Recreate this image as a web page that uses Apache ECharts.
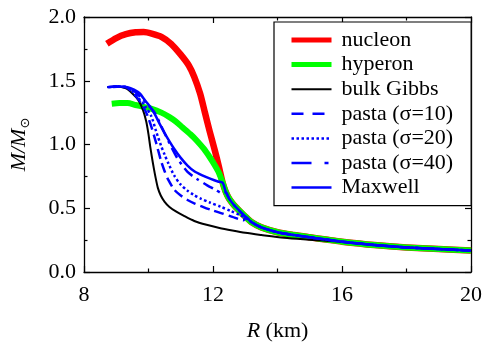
<!DOCTYPE html>
<html>
<head>
<meta charset="utf-8">
<script src="https://cdn.jsdelivr.net/npm/echarts@6/dist/echarts.min.js"></script>
<style>
  html, body { margin: 0; padding: 0; background: #fff; }
  #chart { width: 485px; height: 347px; }
</style>
</head>
<body>
<div id="chart"></div>
<script>
// Mass-radius relations, R in km, M in solar masses.
// All curves share the same low-mass branch at large radii.
const commonTail = [
  [12.3, 0.70], [12.4, 0.625], [12.5, 0.575], [12.65, 0.525], [12.8, 0.485],
  [13.0, 0.435], [13.2, 0.39], [13.5, 0.35], [14.0, 0.312], [14.5, 0.29],
  [15.0, 0.272], [15.5, 0.255], [16.0, 0.238], [17.0, 0.212], [18.0, 0.193],
  [19.0, 0.18], [20.0, 0.168]
];

const nucleon = [
  [8.71, 1.79], [9.0, 1.835], [9.3, 1.865], [9.6, 1.88], [9.85, 1.882],
  [10.1, 1.87], [10.4, 1.845], [10.7, 1.79], [11.0, 1.705], [11.25, 1.62],
  [11.42, 1.53], [11.6, 1.40], [11.75, 1.25], [11.9, 1.10], [12.05, 0.96],
  [12.18, 0.83]
];

const hyperon = [
  [8.86, 1.32], [9.1, 1.325], [9.35, 1.325], [9.6, 1.31], [9.85, 1.295],
  [10.1, 1.28], [10.4, 1.25], [10.65, 1.215], [10.85, 1.18], [11.05, 1.135],
  [11.3, 1.08], [11.5, 1.03], [11.72, 0.965], [11.9, 0.9], [12.05, 0.84],
  [12.18, 0.78]
];

const bulkGibbs = [
  [8.72, 1.45], [9.0, 1.455], [9.3, 1.44], [9.5, 1.40], [9.68, 1.35],
  [9.83, 1.27], [9.93, 1.18], [10.0, 1.08], [10.05, 0.99], [10.1, 0.91],
  [10.16, 0.82], [10.22, 0.74], [10.29, 0.66], [10.38, 0.60], [10.5, 0.55],
  [10.65, 0.51], [10.85, 0.475], [11.1, 0.44], [11.42, 0.40], [11.8, 0.37],
  [12.2, 0.345], [12.6, 0.325], [13.0, 0.307], [13.5, 0.29], [14.2, 0.268],
  [14.8, 0.256], [15.4, 0.247], [16.0, 0.236]
];

const pasta10 = [
  [8.72, 1.45], [9.0, 1.455], [9.3, 1.45], [9.5, 1.41], [9.7, 1.35],
  [9.85, 1.29], [9.98, 1.22], [10.1, 1.13], [10.24, 1.01], [10.39, 0.87],
  [10.5, 0.79], [10.62, 0.72], [10.8, 0.645], [11.0, 0.60], [11.21, 0.565],
  [11.45, 0.535], [11.72, 0.507], [12.0, 0.482], [12.3, 0.458], [12.6, 0.432],
  [12.95, 0.405]
];

const pasta20 = [
  [8.75, 1.45], [9.0, 1.455], [9.3, 1.45], [9.5, 1.415], [9.7, 1.36],
  [9.9, 1.30], [10.09, 1.22], [10.24, 1.10], [10.39, 0.99], [10.5, 0.92],
  [10.62, 0.85], [10.8, 0.755], [11.0, 0.685], [11.2, 0.64], [11.4, 0.605],
  [11.62, 0.575], [11.9, 0.545], [12.24, 0.512], [12.55, 0.478], [12.85, 0.445],
  [13.05, 0.415]
];

const pasta40 = [
  [8.75, 1.45], [9.0, 1.455], [9.3, 1.45], [9.55, 1.42], [9.75, 1.37],
  [9.95, 1.32], [10.19, 1.25], [10.44, 1.12], [10.65, 1.01], [10.9, 0.89],
  [11.21, 0.785], [11.5, 0.73], [11.82, 0.68], [12.08, 0.645], [12.3, 0.615]
];

const maxwell = [
  [8.9, 1.45], [9.1, 1.455], [9.35, 1.45], [9.55, 1.43], [9.73, 1.40],
  [9.88, 1.35], [10.04, 1.30], [10.19, 1.24], [10.35, 1.16], [10.5, 1.09],
  [10.65, 1.025], [10.8, 0.965], [11.0, 0.895], [11.21, 0.835], [11.42, 0.79],
  [11.65, 0.76], [11.93, 0.73], [12.15, 0.71]
];

const xTicks = { min: 8, max: 20, interval: 4 };
const yTicks = { min: 0, max: 2, interval: 0.5 };
const seriesNames = ['nucleon', 'hyperon', 'bulk Gibbs', 'pasta (σ=10)', 'pasta (σ=20)', 'pasta (σ=40)', 'Maxwell'];

// join a branch onto the shared tail, starting past its last radius
function withTail(branch) {
  const lastR = branch[branch.length - 1][0];
  return branch.concat(commonTail.filter(p => p[0] > lastR));
}

const FONT = "'Liberation Serif', 'Times New Roman', serif";
const chart = echarts.init(document.getElementById('chart'), null, { renderer: 'canvas' });

const frameLine = { show: true, onZero: false, lineStyle: { color: '#000', width: 1.3 } };
const tickIn = { show: true, inside: true, length: 6, lineStyle: { color: '#000', width: 1.2 } };
const minorIn = { show: true, splitNumber: 2, length: 3.5, lineStyle: { color: '#000', width: 1.2 } };

const styles = [
  { color: '#ff0000', width: 6.5, type: 'solid', legendWidth: 5, legendType: 'solid' },
  { color: '#00ff00', width: 6, type: 'solid', legendWidth: 5, legendType: 'solid' },
  { color: '#000000', width: 2, type: 'solid', legendWidth: 2, legendType: 'solid' },
  { color: '#0000ff', width: 2.5, type: [10, 5], legendWidth: 2.5, legendType: [12, 9] },
  { color: '#0000ff', width: 2.5, type: [2.5, 2.5], legendWidth: 2.5, legendType: [2.5, 2.5] },
  { color: '#0000ff', width: 2.5, type: [11, 5, 3, 5], legendWidth: 2.5, legendType: [20, 13, 4, 13] },
  { color: '#0000ff', width: 2.5, type: 'solid', legendWidth: 2.5, legendType: 'solid' }
];
const seriesData = [nucleon, hyperon, bulkGibbs, pasta10, pasta20, pasta40, maxwell];
const zOrder = [2, 3, 4, 5, 5, 5, 6];

const series = seriesNames.map((name, i) => ({
  name, type: 'line', data: withTail(seriesData[i]), xAxisIndex: 0, yAxisIndex: 0,
  showSymbol: false, symbol: 'none', smooth: 0.25,
  lineStyle: { color: styles[i].color, width: styles[i].width, type: styles[i].type, cap: 'butt', join: 'round' },
  itemStyle: { color: styles[i].color },
  z: zOrder[i], silent: true, animation: false
}));

const legendData = seriesNames.map((name, i) => ({
  name,
  itemStyle: { opacity: 0 },
  lineStyle: { color: styles[i].color, width: styles[i].legendWidth, type: styles[i].legendType, cap: 'butt' }
}));

const option = {
  animation: false,
  backgroundColor: '#fff',
  grid: { left: 84, right: 10, top: 17, bottom: 71, containLabel: false },
  xAxis: [
    {
      type: 'value', position: 'bottom', ...xTicks,
      axisLine: frameLine, axisTick: tickIn, minorTick: minorIn,
      splitLine: { show: false }, minorSplitLine: { show: false },
      axisLabel: { color: '#000', fontFamily: FONT, fontSize: 22, margin: 12 },
      name: '{i|R} (km)', nameLocation: 'middle', nameGap: 48,
      nameTextStyle: {
        color: '#000', fontFamily: FONT, fontSize: 22,
        rich: { i: { fontStyle: 'italic', fontFamily: FONT, fontSize: 22, color: '#000' } }
      }
    },
    {
      type: 'value', position: 'top', ...xTicks,
      axisLine: frameLine, axisTick: tickIn, minorTick: minorIn,
      splitLine: { show: false }, axisLabel: { show: false }
    }
  ],
  yAxis: [
    {
      type: 'value', position: 'left', ...yTicks,
      axisLine: frameLine, axisTick: tickIn, minorTick: minorIn,
      splitLine: { show: false }, minorSplitLine: { show: false },
      axisLabel: {
        color: '#000', fontFamily: FONT, fontSize: 22, margin: 8,
        formatter: v => v.toFixed(1)
      },
      name: '{i|M/M}{s|⊙}', nameLocation: 'middle', nameGap: 52,
      nameTextStyle: {
        color: '#000', fontFamily: FONT, fontSize: 22,
        rich: {
          i: { fontStyle: 'italic', fontFamily: FONT, fontSize: 22, color: '#000', lineHeight: 26, verticalAlign: 'middle' },
          s: { fontFamily: 'DejaVu Sans', fontSize: 13, color: '#000', lineHeight: 26, verticalAlign: 'bottom', padding: [8, 0, 0, 0] }
        }
      }
    },
    {
      type: 'value', position: 'right', ...yTicks,
      axisLine: frameLine, axisTick: tickIn, minorTick: minorIn,
      splitLine: { show: false }, axisLabel: { show: false }
    }
  ],
  legend: {
    orient: 'vertical', left: 274, top: 22,
    padding: [7, 18, 7, 15],
    itemWidth: 40, itemHeight: 14, itemGap: 2.6,
    borderColor: '#000', borderWidth: 1.2, backgroundColor: '#fff',
    selectedMode: false,
    itemStyle: { opacity: 0 },
    textStyle: { color: '#000', fontFamily: FONT, fontSize: 22, lineHeight: 20, padding: [0, 0, 0, 5] },
    data: legendData
  },
  series
};

chart.setOption(option);
</script>
</body>
</html>
